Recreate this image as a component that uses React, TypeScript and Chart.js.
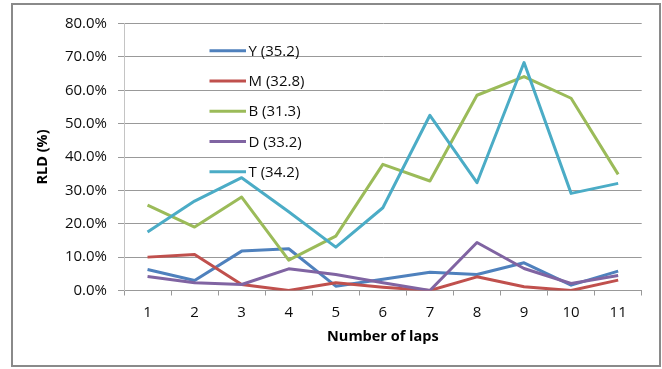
import { useEffect, useRef } from "react";
import { Chart, registerables } from "chart.js";

Chart.register(...registerables);

// Lap numbers on the x axis
const laps = ["1", "2", "3", "4", "5", "6", "7", "8", "9", "10", "11"];

// RLD (%) per lap for each variety
const seriesY = [6.3, 3.0, 11.8, 12.5, 1.3, 3.4, 5.5, 4.8, 8.3, 1.6, 5.8];
const seriesM = [10.0, 10.8, 1.8, 0.0, 2.3, 1.0, 0.0, 4.1, 1.1, 0.0, 3.1];
const seriesB = [25.6, 19.0, 28.0, 9.1, 16.3, 37.8, 32.8, 58.5, 64.1, 57.6, 34.8];
const seriesD = [4.2, 2.3, 1.8, 6.5, 4.8, 2.3, 0.0, 14.4, 6.6, 2.1, 4.5];
const seriesT = [17.5, 26.8, 33.8, 23.6, 13.0, 24.8, 52.5, 32.3, 68.3, 29.1, 32.1];

const seriesLabels = ["Y (35.2)", "M (32.8)", "B (31.3)", "D (33.2)", "T (34.2)"];
const seriesColors = ["#4F81BD", "#C0504D", "#9BBB59", "#8064A2", "#4BACC6"];

const yTicksMin = 0;
const yTicksMax = 80;
const yTicksStep = 10;

const FONT = "'Open Sans', 'Liberation Sans', sans-serif";
const TEXT_COLOR = "#0d0d0d";

// Grey frame around the whole chart
const framePlugin = {
  id: "frame",
  beforeDraw(chart: Chart) {
    const ctx = chart.ctx;
    ctx.save();
    ctx.fillStyle = "#ffffff";
    ctx.fillRect(0, 0, chart.width, chart.height);
    ctx.strokeStyle = "#8a8a8a";
    ctx.lineWidth = 2;
    ctx.strokeRect(12, 4, 648, 362);
    ctx.restore();
  },
};

// Legend drawn inside the plot area, top-left
const innerLegendPlugin = {
  id: "innerLegend",
  afterDatasetsDraw(chart: Chart) {
    const { ctx, chartArea } = chart;
    ctx.save();
    ctx.font = `15px ${FONT}`;
    ctx.textBaseline = "middle";
    ctx.textAlign = "left";
    chart.data.datasets.forEach((ds, i) => {
      const y = chartArea.top + 28.2 + i * 30.25;
      ctx.strokeStyle = ds.borderColor as string;
      ctx.lineWidth = 3;
      ctx.beginPath();
      ctx.moveTo(chartArea.left + 85.5, y - 1);
      ctx.lineTo(chartArea.left + 122, y - 1);
      ctx.stroke();
      ctx.fillStyle = TEXT_COLOR;
      ctx.fillText(ds.label as string, chartArea.left + 124.5, y);
    });
    ctx.restore();
  },
};

export default function App() {
  const canvasRef = useRef<HTMLCanvasElement | null>(null);

  useEffect(() => {
    if (!canvasRef.current) return;
    const allSeries = [seriesY, seriesM, seriesB, seriesD, seriesT];
    const chart = new Chart(canvasRef.current, {
      type: "line",
      data: {
        labels: laps,
        datasets: allSeries.map((data, i) => ({
          label: seriesLabels[i],
          data,
          borderColor: seriesColors[i],
          backgroundColor: seriesColors[i],
          borderWidth: 3,
          pointRadius: 0,
          pointHoverRadius: 0,
          tension: 0,
          borderJoinStyle: "round" as const,
          order: allSeries.length - i,
        })),
      },
      options: {
        responsive: false,
        animation: false,
        events: [],
        layout: { padding: { left: 0, right: 20.3, top: 23.5, bottom: 0 } },
        plugins: {
          legend: { display: false },
          tooltip: { enabled: false },
          title: { display: false },
        },
        scales: {
          x: {
            type: "category",
            offset: true,
            grid: {
              offset: true,
              drawOnChartArea: false,
              drawTicks: true,
              tickLength: 5,
              color: "#999999",
            },
            border: { color: "#999999" },
            ticks: {
              color: TEXT_COLOR,
              padding: 7.8,
              font: { family: FONT, size: 15, lineHeight: 1.2 },
              maxRotation: 0,
              autoSkip: false,
            },
            title: {
              display: true,
              text: "Number of laps",
              color: "#000000",
              font: { family: FONT, size: 14.5, weight: "bold", lineHeight: 1.2 },
              padding: { top: 0, bottom: 23 },
            },
            afterFit(scale) {
              scale.height = 78.5;
            },
          },
          y: {
            min: yTicksMin,
            max: yTicksMax,
            grid: { color: "#999999", tickLength: 6 },
            border: { color: "#c4c4c4" },
            ticks: {
              stepSize: yTicksStep,
              color: TEXT_COLOR,
              padding: 11,
              font: { family: FONT, size: 15, lineHeight: 1.2 },
              callback: (v) => `${Number(v).toFixed(1)}%`,
            },
            title: {
              display: true,
              text: "RLD (%)",
              color: "#000000",
              font: { family: FONT, size: 14.5, weight: "bold", lineHeight: 1.2 },
              padding: { top: 34.3, bottom: 0 },
            },
            afterFit(scale) {
              scale.width = 124;
            },
          },
        },
      },
      plugins: [framePlugin, innerLegendPlugin],
    });
    return () => chart.destroy();
  }, []);

  return (
    <div style={{ position: "absolute", left: 0, top: 0, width: 662, height: 369 }}>
      <canvas ref={canvasRef} width={662} height={369} />
    </div>
  );
}
